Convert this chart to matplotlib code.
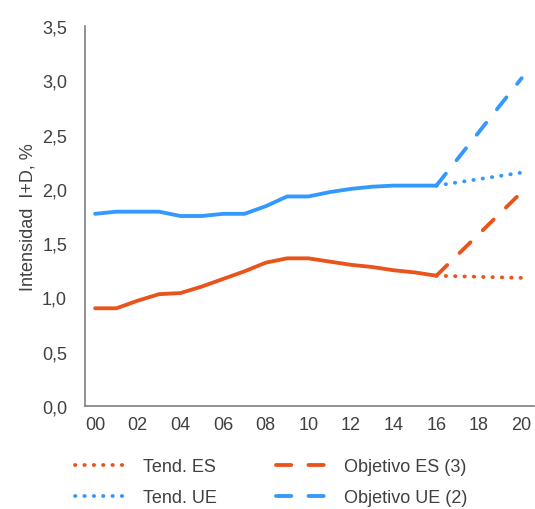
import numpy as np
import matplotlib.pyplot as plt
from matplotlib.ticker import FuncFormatter

plt.rcParams['font.family'] = ['Liberation Sans', 'DejaVu Sans']

# datos
anios = np.arange(0, 17)
es = [0.90, 0.90, 0.97, 1.03, 1.04, 1.10, 1.17, 1.24, 1.32, 1.36, 1.36, 1.33, 1.30, 1.28, 1.25, 1.23, 1.20]
ue = [1.77, 1.79, 1.79, 1.79, 1.75, 1.75, 1.77, 1.77, 1.84, 1.93, 1.93, 1.97, 2.00, 2.02, 2.03, 2.03, 2.03]
anios_proy = [16, 20]
tend_es = [1.20, 1.18]
tend_ue = [2.03, 2.15]
obj_es = [1.20, 1.97]
obj_ue = [2.03, 3.02]
xticks = np.arange(0, 21, 2)
xlabels = ['%02d' % a for a in xticks]

naranja = '#E9541C'
azul = '#3399FF'
lw = 2.75
punteado = (0, (0.1, 2.35))
discontinuo = (0, (4, 4.5))

fig = plt.figure(figsize=(5.35, 5.1), dpi=100)
ax = fig.add_axes([0.159, 0.202, 0.84, 0.745])

ax.plot(anios, es, color=naranja, lw=lw, solid_capstyle='round')
ax.plot(anios, ue, color=azul, lw=lw, solid_capstyle='round')
ax.plot(anios_proy, tend_es, color=naranja, lw=lw, ls=punteado,
        dash_capstyle='round', label='Tend. ES')
ax.plot(anios_proy, tend_ue, color=azul, lw=lw, ls=punteado,
        dash_capstyle='round', label='Tend. UE')
ax.plot(anios_proy, obj_es, color=naranja, lw=lw, ls=discontinuo,
        dash_capstyle='round', label='Objetivo ES (3)')
ax.plot(anios_proy, obj_ue, color=azul, lw=lw, ls=discontinuo,
        dash_capstyle='round', label='Objetivo UE (2)')

ax.set_xlim(-0.47, 20.6)
ax.set_ylim(0, 3.5)
ax.set_xticks(xticks)
ax.set_xticklabels(xlabels)
ax.set_yticks(np.arange(0, 3.51, 0.5))
ax.yaxis.set_major_formatter(FuncFormatter(lambda v, p: ('%.1f' % v).replace('.', ',')))
ax.tick_params(length=0, labelsize=13, colors='#404040', pad=7)
ax.tick_params(axis='y', pad=13)
ax.set_ylabel('Intensidad  I+D, %', fontsize=13, color='#404040', labelpad=4)

for s in ['top', 'right']:
    ax.spines[s].set_visible(False)
for s in ['left', 'bottom']:
    ax.spines[s].set_color('#7f7f7f')
    ax.spines[s].set_linewidth(1.2)

fig.legend(loc='upper left', bbox_to_anchor=(0.11, 0.132), ncol=2, frameon=False,
           fontsize=13, handlelength=3.0, handletextpad=0.75, columnspacing=3.3,
           labelspacing=0.8, labelcolor='#404040')

fig.savefig('out.png', dpi=100)
